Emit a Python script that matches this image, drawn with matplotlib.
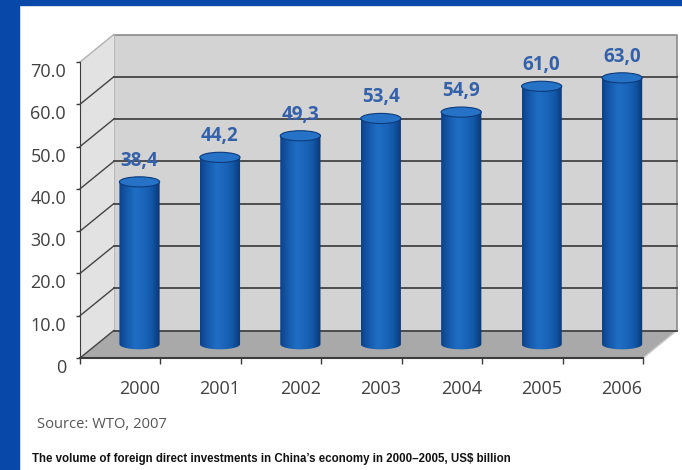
"""Foreign direct investment in China, 2000-2006 (3D cylinder bar chart)."""

import numpy as np
import matplotlib.pyplot as plt
from matplotlib.colors import LinearSegmentedColormap
from matplotlib.patches import Rectangle, Polygon, Ellipse, PathPatch
from matplotlib.path import Path
from matplotlib.transforms import ScaledTranslation

years = ['2000', '2001', '2002', '2003', '2004', '2005', '2006']
fdi = [38.4, 44.2, 49.3, 53.4, 54.9, 61.0, 63.0]
y_ticks = [0, 10, 20, 30, 40, 50, 60, 70]
y_tick_labels = ['0', '10.0', '20.0', '30.0', '40.0', '50.0', '60.0', '70.0']
source = 'Source: WTO, 2007'
caption = ('The volume of foreign direct investments in China\u2019s economy '
           'in 2000\u20132005, US$ billion')

plt.rcParams['font.family'] = ['Open Sans', 'DejaVu Sans']

# depth of the fake 3D box, in data units
ddx, ddy = 0.42, 6.5
bar_w, ell_h, bar_shift = 0.5, 2.4, 0.24

fig = plt.figure(figsize=(6.82, 4.70), dpi=100)
fig.patch.set_facecolor('white')
fig.patches.append(Rectangle((0, 0), 19 / 682, 1, transform=fig.transFigure,
                             color='#0848a8', zorder=0))
fig.patches.append(Rectangle((0, 1 - 5 / 470), 1, 5 / 470,
                             transform=fig.transFigure, color='#0848a8',
                             zorder=0))

ax = fig.add_axes([80 / 682, 112 / 470, 563 / 682, 296 / 470])
ax.patch.set_visible(False)
n = len(years)
x0, x1 = -0.5, n - 0.5
top = y_ticks[-1]

# walls and floor
ax.add_patch(Rectangle((x0 + ddx, ddy), n, top, fc='#d3d3d3', ec='none',
                       clip_on=False, zorder=0))
ax.add_patch(Polygon([(x0, 0), (x0 + ddx, ddy), (x0 + ddx, top + ddy),
                      (x0, top)], fc='#e2e2e2', ec='none', clip_on=False,
                     zorder=0))
ax.add_patch(Polygon([(x0, 0), (x1, 0), (x1 + ddx, ddy), (x0 + ddx, ddy)],
                     fc='#a9a9a9', ec='none', clip_on=False, zorder=1))
ax.plot([x0 + ddx, x1 + ddx, x1 + ddx], [top + ddy, top + ddy, ddy],
        color='#8a8a8a', lw=1.2, clip_on=False, zorder=1)
ax.plot([x0 + ddx, x0 + ddx], [ddy, top + ddy], color='#b8b8b8', lw=0.8,
        clip_on=False, zorder=1)
ax.plot([x0, x0 + ddx], [top, top + ddy], color='#b0b0b0', lw=1,
        clip_on=False, zorder=1)
ax.plot([x1, x1 + ddx], [0, ddy], color='#c8c8c8', lw=1, clip_on=False,
        zorder=1)
for v in y_ticks[:-1]:
    ax.plot([x0 + ddx, x1 + ddx], [v + ddy, v + ddy], color='#444444',
            lw=1.3, clip_on=False, zorder=2)
    ax.plot([x0, x0 + ddx], [v, v + ddy], color='#444444', lw=1,
            clip_on=False, zorder=2)

# cylinders
cyl = LinearSegmentedColormap.from_list(
    'cyl', ['#0d4189', '#155bad', '#1f6ec4', '#1b66ba', '#1358a8', '#0a3775'])
grad = np.linspace(0, 1, 128).reshape(1, -1)
base = ddy / 2
theta = np.linspace(np.pi, 2 * np.pi, 40)
for i, v in enumerate(fdi):
    c = i + bar_shift
    left, right = c - bar_w / 2, c + bar_w / 2
    ytop = v + base
    arc = np.column_stack([c + bar_w / 2 * np.cos(theta),
                           base + ell_h / 2 * np.sin(theta)])
    verts = np.vstack([[left, ytop], arc, [right, ytop], [left, ytop]])
    codes = [Path.MOVETO] + [Path.LINETO] * (len(verts) - 2) + [Path.CLOSEPOLY]
    outline = PathPatch(Path(verts, codes), transform=ax.transData)
    im = ax.imshow(grad, cmap=cyl, extent=[left, right, base - ell_h, ytop],
                   aspect='auto', interpolation='bicubic', zorder=3)
    im.set_clip_path(outline)
    ax.add_patch(Ellipse((c, ytop), bar_w, ell_h, fc='#2572c6', ec='#0d3b7c',
                         lw=0.8, zorder=4))
    ax.annotate(f'{v:.1f}'.replace('.', ','), xy=(c, ytop), xytext=(0, 8),
                textcoords='offset points', ha='center', va='bottom',
                fontsize=13.5, fontweight='bold', color='#3461a9', zorder=5)

ax.set_xlim(x0, x1)
ax.set_ylim(0, top)
ax.set_aspect('auto')

# axes, ticks
for side in ['top', 'right']:
    ax.spines[side].set_visible(False)
ax.spines['left'].set_color('#3c3c3c')
ax.spines['bottom'].set_color('#3c3c3c')
ax.spines['bottom'].set_linewidth(1.5)
ax.spines['left'].set_zorder(2)
ax.spines['bottom'].set_zorder(6)

ax.set_yticks(y_ticks)
ax.set_yticklabels(y_tick_labels)
ax.tick_params(axis='y', length=3, width=1, color='#3c3c3c', pad=7,
               labelsize=13, labelcolor='#404040')
offset = ScaledTranslation(0, -0.08, fig.dpi_scale_trans)
for lab in ax.get_yticklabels():
    lab.set_transform(lab.get_transform() + offset)

ax.set_xticks(np.arange(n + 1) - 0.5)
ax.set_xticklabels([])
ax.set_xticks(np.arange(n) + bar_shift, labels=years, minor=True)
ax.tick_params(axis='x', which='major', length=4, width=1, color='#3c3c3c')
ax.tick_params(axis='x', which='minor', length=0, pad=16, labelsize=13,
               labelcolor='#404040')

fig.text(37 / 682, 1 - 425 / 470, source, fontsize=10.6, color='#555555',
         va='center', ha='left')
fig.text(32 / 682, 1 - 459 / 470, caption, fontsize=8.3, fontweight='bold',
         color='#111111', va='center', ha='left',
         family=['Liberation Sans Narrow', 'Liberation Sans'])

fig.savefig('out.png', dpi=100)
